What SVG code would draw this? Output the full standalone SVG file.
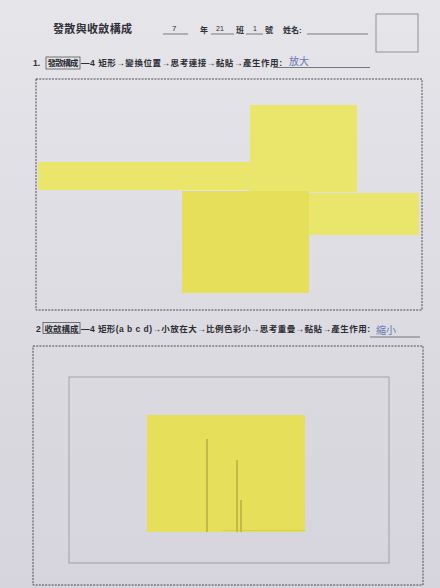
<svg xmlns="http://www.w3.org/2000/svg" width="440" height="588" viewBox="0 0 440 588">
<defs>
<linearGradient id="paper" x1="0" y1="0" x2="0" y2="1">
<stop offset="0" stop-color="#e6e5ea"/>
<stop offset="0.5" stop-color="#dddce2"/>
<stop offset="1" stop-color="#d6d4dc"/>
</linearGradient>
<style>
.t{font-family:"Liberation Sans","Noto Sans CJK TC",sans-serif;fill:#2e2e34;font-weight:600}
.h{font-family:"Noto Sans CJK TC",sans-serif;fill:#6a78b4}
.dash{fill:none;stroke:#4a4a50;stroke-width:1;stroke-dasharray:2 1.2}
.ul{stroke:#5a5a60;stroke-width:0.8}
.y{fill:#eae56b}
.y2{fill:#e6df5a}
.cut{stroke:#8c8430;stroke-width:0.8}
</style>
</defs>
<rect width="440" height="588" fill="url(#paper)"/>

<g id="header">
<text class="t" x="53" y="33" font-size="11" font-weight="bold" textLength="79">發散與收斂構成</text>
<line class="ul" x1="163" y1="34" x2="188" y2="34"/>
<text class="t" x="172" y="31" font-size="8" style="font-weight:400">7</text>
<text class="t" x="200" y="33" font-size="8">年</text>
<line class="ul" x1="211" y1="34" x2="234" y2="34"/>
<text class="t" x="216" y="31" font-size="7" style="font-weight:400">21</text>
<text class="t" x="236" y="33" font-size="8">班</text>
<line class="ul" x1="246" y1="34" x2="263" y2="34"/>
<text class="t" x="253" y="31" font-size="7" style="font-weight:400">1</text>
<text class="t" x="265" y="33" font-size="8">號</text>
<text class="t" x="283" y="33" font-size="8">姓名:</text>
<line class="ul" x1="307" y1="34" x2="368" y2="34"/>
<rect x="376" y="14" width="42" height="38" fill="none" stroke="#7a7a80" stroke-width="0.8"/>
</g>

<g id="section1-title">
<text class="t" x="33" y="65.5" font-size="8.5">1.</text>
<rect x="46" y="57" width="34" height="12" fill="none" stroke="#555" stroke-width="0.8"/>
<text class="t" x="47.5" y="65.5" font-size="8.5" textLength="31">發散構成</text>
<text class="t" x="81" y="65.5" font-size="8.5" textLength="201">—4 矩形→變換位置→思考連接→黏貼→產生作用:</text>
<line class="ul" x1="273" y1="67.5" x2="370" y2="67.5"/>
<text class="h" x="289" y="65" font-size="10">放大</text>
</g>

<g id="section1-work">
<rect class="dash" x="36" y="79" width="386" height="231"/>
<rect class="y" x="38" y="162" width="213" height="28"/>
<rect class="y" x="250" y="105" width="107" height="87"/>
<rect class="y" x="309" y="193" width="110" height="42"/>
<rect class="y2" x="182" y="191" width="127" height="102"/>
</g>

<g id="section2-title">
<text class="t" x="36" y="331.5" font-size="8.5">2</text>
<rect x="43" y="322.5" width="37" height="11" fill="none" stroke="#555" stroke-width="0.8"/>
<text class="t" x="44.5" y="331.5" font-size="8.5" textLength="34">收斂構成</text>
<text class="t" x="81" y="331.5" font-size="8.5" textLength="289">—4 矩形(a b c d)→小放在大→比例色彩小→思考重疊→黏貼→產生作用:</text>
<line class="ul" x1="370" y1="337" x2="420" y2="337"/>
<text class="h" x="376" y="334" font-size="10">縮小</text>
</g>

<g id="section2-work">
<rect class="dash" x="33" y="346" width="390" height="239"/>
<rect x="69" y="377" width="320" height="186" fill="none" stroke="#8a8a90" stroke-width="0.7"/>
<rect class="y2" x="147" y="415" width="158" height="117"/>
<line class="cut" x1="207" y1="439" x2="207" y2="532"/>
<line class="cut" x1="237" y1="460" x2="237" y2="532"/>
<line class="cut" x1="241" y1="500" x2="241" y2="532"/>
<line x1="223" y1="530.5" x2="305" y2="530.5" stroke="#c9c24a" stroke-width="0.6"/>
</g>
</svg>
